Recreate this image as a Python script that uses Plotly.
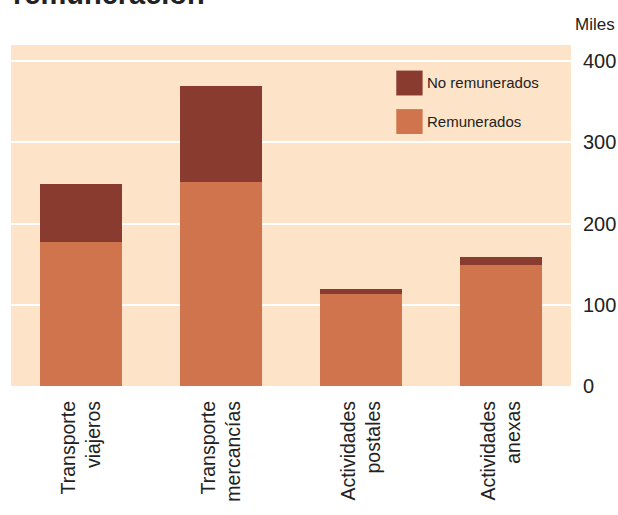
import plotly.graph_objects as go

# data (miles de personas)
categorias = ["Transporte<br>viajeros", "Transporte<br>mercancías",
              "Actividades<br>postales", "Actividades<br>anexas"]
remunerados = [177, 251, 113, 149]
no_remunerados = [72, 119, 7, 10]
series = ["Remunerados", "No remunerados"]

COLOR_REM = "#D0744D"
COLOR_NOREM = "#8A3B2F"
BG = "#FDE4C9"

fig = go.Figure()
fig.add_trace(go.Bar(x=categorias, y=remunerados, name=series[0],
                     marker=dict(color=COLOR_REM, line=dict(width=0))))
fig.add_trace(go.Bar(x=categorias, y=no_remunerados, name=series[1],
                     marker=dict(color=COLOR_NOREM, line=dict(width=0))))

fig.update_layout(
    barmode="stack",
    bargap=0.42,
    width=618, height=515,
    margin=dict(l=11, r=47, t=45, b=129),
    paper_bgcolor="white",
    plot_bgcolor=BG,
    font=dict(family="Liberation Sans, Arial, sans-serif", color="#222"),
    showlegend=False,
    xaxis=dict(tickangle=-90, tickfont=dict(size=19.5, color="#222"),
               showgrid=False, ticks="", showline=False, ticklabelstandoff=10,
               automargin=False),
    yaxis=dict(side="right", range=[0, 420], tickvals=[0, 100, 200, 300, 400],
               gridcolor="white", gridwidth=2, zeroline=False,
               tickfont=dict(size=20, color="#222"), ticklabelstandoff=11,
               automargin=False),
)

# custom legend (large swatches)
for i, (name, col) in enumerate([(series[1], COLOR_NOREM), (series[0], COLOR_REM)]):
    y0 = 0.925 - i * 0.113
    fig.add_shape(type="rect", xref="paper", yref="paper",
                  x0=0.688, x1=0.735, y0=y0 - 0.073, y1=y0,
                  fillcolor=col, line=dict(width=0))
    fig.add_annotation(xref="paper", yref="paper", x=0.740, y=y0 - 0.036,
                       text=name, showarrow=False, xanchor="left",
                       yanchor="middle", font=dict(size=15, color="#222"))

fig.add_annotation(xref="paper", yref="paper", x=1.082, y=1.06,
                   text="Miles", showarrow=False, xanchor="right",
                   yanchor="middle", font=dict(size=17, color="#222"))

# cut-off title at top
fig.add_annotation(xref="paper", yref="paper", x=0.0, y=1.149,
                   text="<b>remuneración</b>", showarrow=False,
                   xanchor="left", yanchor="middle",
                   font=dict(size=29, color="#222"))

fig.write_html("out.html", config={"displayModeBar": False},
               post_script="document.body.style.margin='0';")
